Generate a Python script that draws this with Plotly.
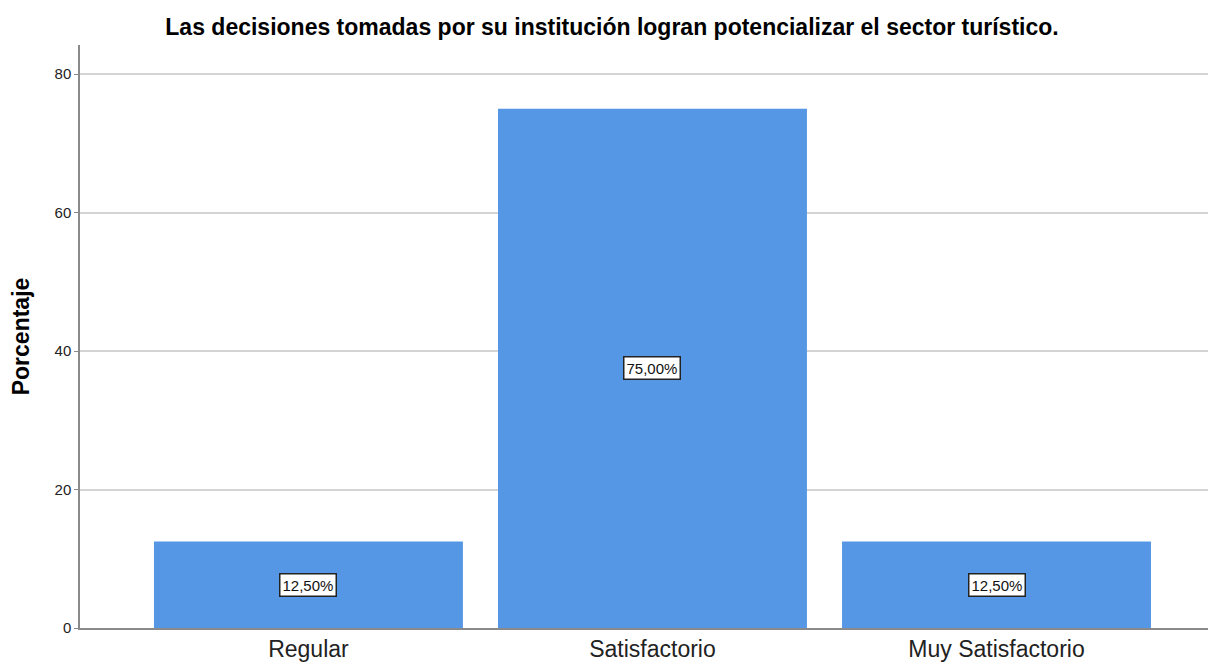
import plotly.graph_objects as go

categories = ["Regular", "Satisfactorio", "Muy Satisfactorio"]
values = [12.5, 75.0, 12.5]
labels = ["12,50%", "75,00%", "12,50%"]
y_ticks = [0, 20, 40, 60, 80]

xpos = list(range(len(categories)))

fig = go.Figure()
fig.add_trace(go.Bar(
    x=xpos, y=values, width=0.898,
    marker=dict(color="#5596E5", line=dict(color="#5596E5", width=0)),
    hoverinfo="skip",
))

for xp, v, lab in zip(xpos, values, labels):
    fig.add_annotation(
        x=xp, y=v / 2, text=lab, showarrow=False,
        font=dict(family="Liberation Sans, Arial", size=15, color="#111"),
        bgcolor="white", bordercolor="#222", borderwidth=1.5, borderpad=2,
    )

fig.update_layout(
    width=1208, height=657,
    margin=dict(l=72, r=0, t=37, b=37),
    paper_bgcolor="white", plot_bgcolor="white",
    showlegend=False,
    title=dict(
        text="<b>Las decisiones tomadas por su institución logran potencializar el sector turístico.</b>",
        x=0.5, xanchor="center", y=0.971, yanchor="middle",
        font=dict(family="Liberation Sans, Arial", size=23, color="#000"),
    ),
    font=dict(family="Liberation Sans, Arial", color="#111"),
)

fig.update_xaxes(
    tickvals=xpos, ticktext=categories,
    range=[-0.664, 2.638],
    showgrid=False, zeroline=False,
    showline=True, linecolor="#8a8a8a", linewidth=1.5,
    ticks="", tickfont=dict(size=23, color="#222"),
)
fig.update_yaxes(
    range=[0, 84.2], tickvals=y_ticks,
    showgrid=True, gridcolor="#d4d4d4", gridwidth=1.5,
    zeroline=False,
    showline=True, linecolor="#8a8a8a", linewidth=1.5,
    ticks="outside", ticklen=4, tickcolor="#8a8a8a",
    tickfont=dict(size=15, color="#222"),
    title=dict(text="<b>Porcentaje</b>", font=dict(size=23, color="#000"), standoff=20),
)

fig.write_html("out.html")
